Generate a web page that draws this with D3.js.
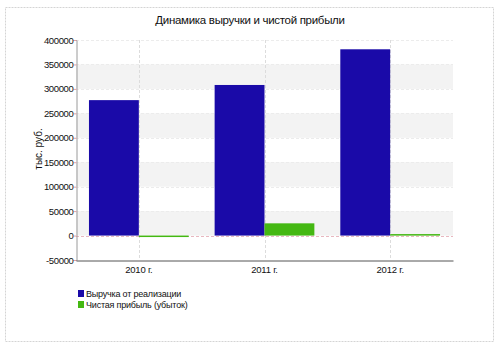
<!DOCTYPE html>
<html>
<head>
<meta charset="utf-8">
<script src="https://cdn.jsdelivr.net/npm/d3@7"></script>
<style>
  html, body { margin: 0; padding: 0; background: #fff; }
  svg { display: block; font-family: "Liberation Sans", Arial, sans-serif; }
</style>
</head>
<body>
<svg id="chart" width="499" height="350"></svg>
<script>
// Data (тыс. руб.)
const years = ["2010 г.", "2011 г.", "2012 г."];
const revenue = [277000, 308000, 381000];
const netProfit = [-2500, 25000, 3000];
const yTicks = [-50000, 0, 50000, 100000, 150000, 200000, 250000, 300000, 350000, 400000];
const seriesNames = ["Выручка от реализации", "Чистая прибыль (убыток)"];
const seriesColors = ["#1a0aa8", "#44b812"];

const svg = d3.select("#chart");

// Outer frame
svg.append("rect")
  .attr("x", 5.5).attr("y", 7.5).attr("width", 488).attr("height", 334)
  .attr("fill", "#fff").attr("stroke", "#d4d4d4").attr("stroke-dasharray", "2,1");

const plot = { left: 76, right: 453, top: 40, bottom: 260 };

const y = d3.scaleLinear().domain([-50000, 400000]).range([plot.bottom, plot.top]);
const x = d3.scaleBand().domain(years).range([plot.left, plot.right]).paddingInner(0).paddingOuter(0);
const inner = d3.scaleBand().domain([0, 1]).range([0, x.bandwidth()]).paddingOuter(0.26).paddingInner(0);

// Alternating bands
const bands = [[300000, 350000], [200000, 250000], [100000, 150000], [0, 50000]];
svg.append("g").selectAll("rect").data(bands).join("rect")
  .attr("x", plot.left).attr("width", plot.right - plot.left)
  .attr("y", d => y(d[1])).attr("height", d => y(d[0]) - y(d[1]))
  .attr("fill", "#f3f3f3");

// Horizontal grid lines
svg.append("g").selectAll("line").data(yTicks.filter(v => v !== -50000)).join("line")
  .attr("x1", plot.left).attr("x2", plot.right)
  .attr("y1", d => Math.round(y(d)) + 0.5).attr("y2", d => Math.round(y(d)) + 0.5)
  .attr("stroke", d => d === 0 ? "#e8b8c0" : "#ececec")
  .attr("stroke-dasharray", "3,2");

// Vertical grid lines at category centres
svg.append("g").selectAll("line").data(years).join("line")
  .attr("x1", d => Math.round(x(d) + x.bandwidth() / 2) + 0.5)
  .attr("x2", d => Math.round(x(d) + x.bandwidth() / 2) + 0.5)
  .attr("y1", plot.top).attr("y2", plot.bottom)
  .attr("stroke", "#dcdcdc").attr("stroke-dasharray", "3,2");

// Bars
const series = [revenue, netProfit];
series.forEach((vals, si) => {
  svg.append("g").selectAll("rect").data(vals).join("rect")
    .attr("x", (d, i) => x(years[i]) + inner(si))
    .attr("width", inner.bandwidth())
    .attr("y", d => y(Math.max(0, d)))
    .attr("height", d => Math.max(1.5, Math.abs(y(d) - y(0))))
    .attr("fill", seriesColors[si]);
});

// Y axis (plain hyphen for negatives)
const yAxis = d3.axisLeft(y).tickValues(yTicks).tickSize(3).tickFormat(d => String(d));
const gy = svg.append("g").attr("transform", `translate(${plot.left + 0.5},0)`).call(yAxis);
gy.select(".domain").attr("stroke", "#9a9a9a");
gy.selectAll(".tick line").attr("stroke", "#e0a0a8");
gy.selectAll(".tick text").attr("font-size", 9.5).attr("fill", "#111").attr("x", -3)
  .attr("font-family", "Liberation Sans, Arial, sans-serif").attr("letter-spacing", "-0.35");

// X axis
const xAxis = d3.axisBottom(x).tickSize(0);
const gx = svg.append("g").attr("transform", `translate(0,${plot.bottom + 0.5})`).call(xAxis);
gx.select(".domain").attr("stroke", "#555");
gx.selectAll(".tick text").attr("font-size", 9.5).attr("fill", "#111").attr("dy", "0.95em")
  .attr("font-family", "Liberation Sans, Arial, sans-serif").attr("letter-spacing", "-0.2");

// Title
svg.append("text").attr("x", 250).attr("y", 24).attr("text-anchor", "middle")
  .attr("font-size", 11.5).attr("letter-spacing", "-0.3").attr("fill", "#111")
  .text("Динамика выручки и чистой прибыли");

// Y axis title
svg.append("text").attr("transform", "translate(42,149) rotate(-90)")
  .attr("text-anchor", "middle").attr("font-size", 10).attr("fill", "#111").text("тыс. руб.");

// Legend
const legend = svg.append("g").attr("transform", "translate(78,290)");
seriesNames.forEach((name, i) => {
  legend.append("rect").attr("x", 0).attr("y", i * 11).attr("width", 6).attr("height", 7)
    .attr("fill", seriesColors[i]);
  legend.append("text").attr("x", 8).attr("y", i * 11 + 7).attr("font-size", 9)
    .attr("letter-spacing", "-0.2").attr("fill", "#111").text(name);
});
</script>
</body>
</html>
